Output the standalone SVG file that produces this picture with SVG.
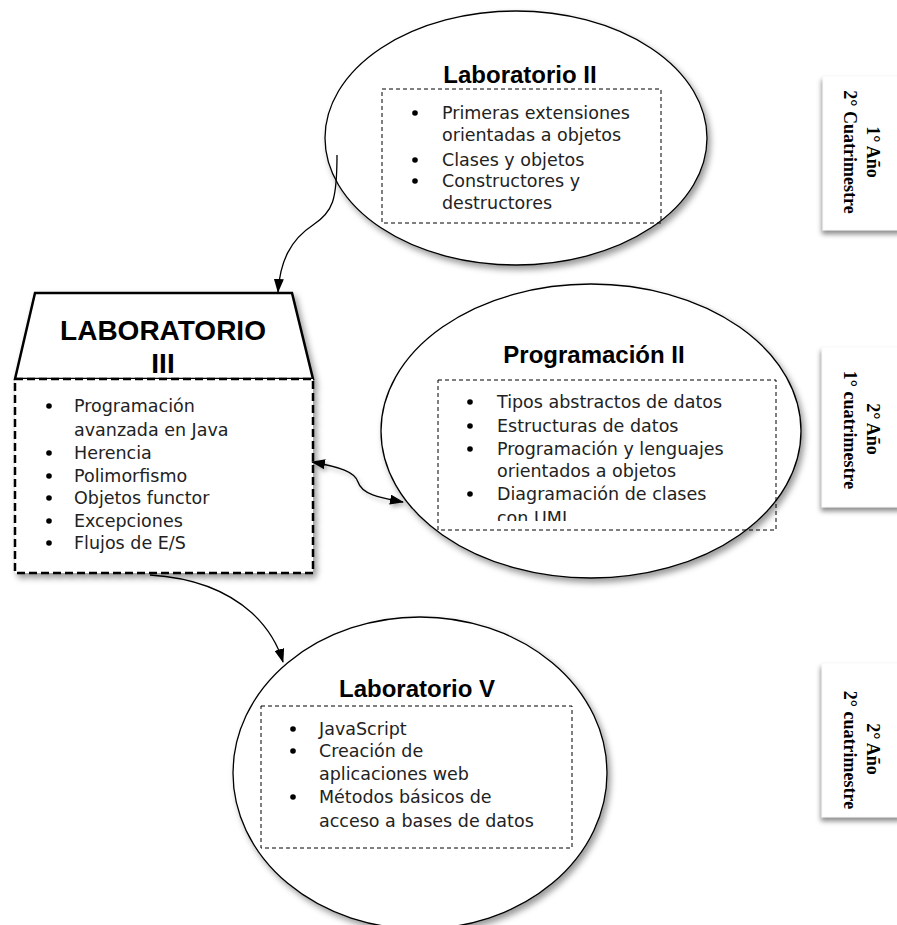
<svg xmlns="http://www.w3.org/2000/svg" width="897" height="925" viewBox="0 0 897 925">
<style>
.title{font-family:"Liberation Sans",Arial,sans-serif;font-weight:bold;font-size:24px;fill:#000;text-anchor:middle}
.big{font-family:"Liberation Sans",Arial,sans-serif;font-weight:bold;font-size:28px;fill:#000;text-anchor:middle}
.item{font-family:"DejaVu Sans",sans-serif;font-size:17.5px;fill:#222}
.side{font-family:"Liberation Serif","Times New Roman",serif;font-weight:bold;font-size:18px;fill:#000;text-anchor:middle}
.ell{fill:#fff;stroke:#000;stroke-width:1.3}
.inner{fill:none;stroke:#000;stroke-width:1;stroke-dasharray:4 3}
.conn{fill:none;stroke:#000;stroke-width:1.3}
.sbox{fill:#fff;stroke:#f2f2f2;stroke-width:0.5}
</style>
<defs>
<filter id="sh" x="-20%" y="-20%" width="140%" height="140%">
<feDropShadow dx="3" dy="4" stdDeviation="3" flood-color="#000" flood-opacity="0.4"/>
</filter>
<filter id="shb" x="-30%" y="-20%" width="160%" height="140%">
<feDropShadow dx="-1" dy="4" stdDeviation="2.5" flood-color="#000" flood-opacity="0.45"/>
</filter>
<filter id="shl" x="-5%" y="-200%" width="110%" height="500%">
<feDropShadow dx="2" dy="3" stdDeviation="2" flood-color="#000" flood-opacity="0.3"/>
</filter>
<marker id="ah" viewBox="0 0 14 10" markerWidth="14" markerHeight="10" refX="13" refY="5" orient="auto-start-reverse" markerUnits="userSpaceOnUse">
<path d="M0,0 L14,5 L0,10 z" fill="#000"/>
</marker>
<clipPath id="clipP"><rect x="430" y="375" width="350" height="146"/></clipPath>
</defs>

<g id="dividers">
<line x1="8" y1="273" x2="897" y2="273" stroke="#000" stroke-width="1.2" stroke-dasharray="12 4 3 4" filter="url(#shl)"/>
<line x1="8" y1="597" x2="897" y2="597" stroke="#444" stroke-width="1" stroke-dasharray="1 1" filter="url(#shl)"/>
</g>

<g id="side-labels">
<g id="label-1">
<rect class="sbox" x="823" y="76" width="80" height="154" filter="url(#shb)"/>
<text class="side" transform="translate(867,152) rotate(90)">1° Año</text>
<text class="side" transform="translate(844,152) rotate(90)">2° Cuatrimestre</text>
</g>
<g id="label-2">
<rect class="sbox" x="822" y="347" width="80" height="160" filter="url(#shb)"/>
<text class="side" transform="translate(867,429) rotate(90)">2° Año</text>
<text class="side" transform="translate(844,430) rotate(90)">1° cuatrimestre</text>
</g>
<g id="label-3">
<rect class="sbox" x="822" y="663" width="80" height="154" filter="url(#shb)"/>
<text class="side" transform="translate(867,749) rotate(90)">2° Año</text>
<text class="side" transform="translate(844,750) rotate(90)">2° cuatrimestre</text>
</g>
</g>

<g id="lab2">
<ellipse class="ell" cx="516" cy="138" rx="191" ry="127" filter="url(#sh)"/>
<text class="title" x="520" y="83">Laboratorio II</text>
<rect class="inner" x="382" y="89" width="279" height="134"/>
<g fill="#000"><circle cx="415" cy="113" r="2.8"/><circle cx="415" cy="160" r="2.8"/><circle cx="415" cy="181" r="2.8"/></g>
<text class="item" x="442" y="119">Primeras extensiones</text>
<text class="item" x="442" y="141">orientadas a objetos</text>
<text class="item" x="442" y="166">Clases y objetos</text>
<text class="item" x="442" y="187">Constructores y</text>
<text class="item" x="442" y="209">destructores</text>
</g>

<g id="lab3">
<g filter="url(#sh)">
<polygon points="35,293 292,293 313,379 15,379" fill="#fff" stroke="#000" stroke-width="2.5" stroke-linejoin="miter"/>
<rect x="15" y="379" width="298" height="194" fill="#fff" stroke="#000" stroke-width="2.5" stroke-dasharray="8 4"/>
</g>
<text class="big" x="163" y="340">LABORATORIO</text>
<text class="big" x="163" y="373">III</text>
<g fill="#000"><circle cx="49" cy="406" r="2.8"/><circle cx="49" cy="453" r="2.8"/><circle cx="49" cy="476" r="2.8"/><circle cx="49" cy="498" r="2.8"/><circle cx="49" cy="521" r="2.8"/><circle cx="49" cy="543" r="2.8"/></g>
<text class="item" x="74" y="412">Programación</text>
<text class="item" x="74" y="436">avanzada en Java</text>
<text class="item" x="74" y="459">Herencia</text>
<text class="item" x="74" y="482">Polimorfismo</text>
<text class="item" x="74" y="504">Objetos functor</text>
<text class="item" x="74" y="527">Excepciones</text>
<text class="item" x="74" y="549">Flujos de E/S</text>
</g>

<g id="prog2">
<ellipse class="ell" cx="591" cy="431" rx="210" ry="147" filter="url(#sh)"/>
<text class="title" x="594" y="363">Programación II</text>
<rect class="inner" x="438" y="380" width="338" height="150"/>
<g fill="#000"><circle cx="470" cy="402" r="2.8"/><circle cx="470" cy="426" r="2.8"/><circle cx="470" cy="449" r="2.8"/><circle cx="470" cy="494" r="2.8"/></g>
<g clip-path="url(#clipP)">
<text class="item" x="497" y="408">Tipos abstractos de datos</text>
<text class="item" x="497" y="432">Estructuras de datos</text>
<text class="item" x="497" y="455">Programación y lenguajes</text>
<text class="item" x="497" y="477">orientados a objetos</text>
<text class="item" x="497" y="500">Diagramación de clases</text>
<text class="item" x="497" y="524">con UML</text>
</g>
</g>

<g id="lab5">
<ellipse class="ell" cx="420" cy="773" rx="187" ry="156" filter="url(#sh)"/>
<text class="title" x="417" y="697">Laboratorio V</text>
<rect class="inner" x="261" y="706" width="311" height="142"/>
<g fill="#000"><circle cx="293" cy="729" r="2.8"/><circle cx="293" cy="751" r="2.8"/><circle cx="293" cy="797" r="2.8"/></g>
<text class="item" x="319" y="735">JavaScript</text>
<text class="item" x="319" y="757">Creación de</text>
<text class="item" x="319" y="780">aplicaciones web</text>
<text class="item" x="319" y="803">Métodos básicos de</text>
<text class="item" x="319" y="827">acceso a bases de datos</text>
</g>

<g id="connectors">
<path class="conn" d="M337,155 C337,200 333,212 313,225 C290,240 280,262 278,292" marker-end="url(#ah)"/>
<path class="conn" d="M312,462 C340,467 355,472 358,482 C362,495 382,498 403,502" marker-start="url(#ah)" marker-end="url(#ah)" filter="url(#shl)"/>
<path class="conn" d="M150,575 C200,578 232,595 252,613 C268,628 278,645 283,662" marker-end="url(#ah)"/>
</g>
</svg>
